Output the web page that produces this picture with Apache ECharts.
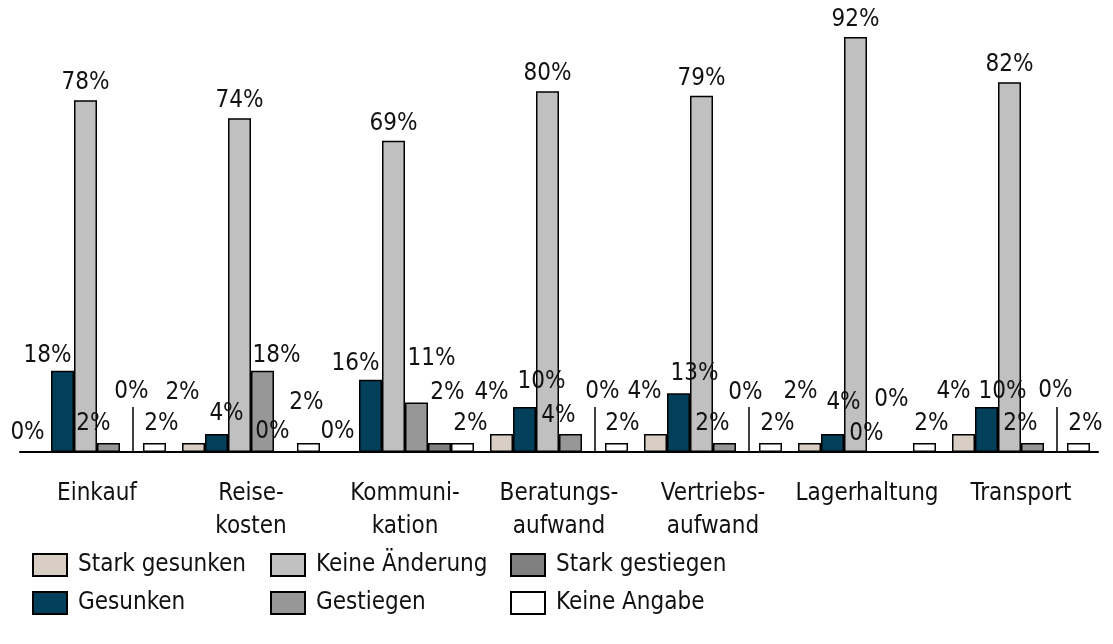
<!DOCTYPE html>
<html><head><meta charset="utf-8">
<script src="https://cdn.jsdelivr.net/npm/echarts@6/dist/echarts.min.js"></script>
<style>html,body{margin:0;padding:0;background:#fff}#c{width:1113px;height:644px}</style>
</head><body><div id="c"></div>
<script>
// ---- data ----
const CATEGORIES = ['Einkauf', 'Reise-\nkosten', 'Kommuni-\nkation', 'Beratungs-\naufwand', 'Vertriebs-\naufwand', 'Lagerhaltung', 'Transport'];
const SERIES_NAMES = ['Stark gesunken', 'Gesunken', 'Keine Änderung', 'Gestiegen', 'Stark gestiegen', 'Keine Angabe'];
const STARK_GESUNKEN  = [0, 2, 0, 4, 4, 2, 4];
const GESUNKEN        = [18, 4, 16, 10, 13, 4, 10];
const KEINE_AENDERUNG = [78, 74, 69, 80, 79, 92, 82];
const GESTIEGEN       = [2, 18, 11, 4, 2, 0, 2];
const STARK_GESTIEGEN = [0, 0, 2, 0, 0, 0, 0];
const KEINE_ANGABE    = [2, 2, 2, 2, 2, 2, 2];
const SEPARATOR_AT    = [0, 3, 4, 6];   // which separator ticks are drawn

// ---- style ----
const FONT = "'Liberation Sans Narrow', 'Arial Narrow', 'DejaVu Sans Condensed', sans-serif";
const COLORS = ['#d8cec4', '#023f5a', '#c0c0c0', '#979797', '#808080', '#ffffff'];
const LABEL_NUDGE = [
  [[-12,-4],[-11,-36],[-10,-5],[-10,-27],[-11,-28],[-9,-37],[-10,-28]],
  [[-15,-1],[10,-6],[-15,-2],[17,-11],[16,-6],[11,-17],[16,-1]],
  [[0,-3],[0,-3],[0,-3],[0,-3],[0,-3],[0,-3],[0,-3]],
  [[-15,-5],[14,-1],[15,-30],[-12,-4],[-12,-5],[-12,-3],[-12,-5]],
  [[0,-45],[-13,-5],[8,-36],[9,-45],[-2,-44],[-10,-37],[0,-46]],
  [[7,-5],[-2,-26],[8,-5],[6,-5],[7,-5],[7,-5],[7,-5]]
];
const VALUES = [STARK_GESUNKEN, GESUNKEN, KEINE_AENDERUNG, GESTIEGEN, STARK_GESTIEGEN, KEINE_ANGABE];

const series = SERIES_NAMES.map((name, s) => ({
  name, type: 'bar', xAxisIndex: 0, yAxisIndex: 0,
  barGap: '0%', barCategoryGap: '10.4%',
  itemStyle: { color: COLORS[s], borderColor: '#000', borderWidth: 1.5 },
  label: {
    show: true, position: 'top', distance: 0, formatter: '{c}%',
    fontFamily: FONT, fontSize: 24, lineHeight: 28, color: '#111'
  },
  data: VALUES[s].map((v, i) => ({ value: v, label: { offset: LABEL_NUDGE[s][i] } }))
}));

const legendBase = {
  orient: 'vertical', top: 553, padding: 0, itemWidth: 34, itemHeight: 22, itemGap: 14,
  icon: 'rect',
  textStyle: { fontFamily: FONT, fontSize: 24, lineHeight: 22, color: '#111', padding: [0, 0, 0, 6] }
};

const option = {
  animation: false,
  backgroundColor: '#fff',
  grid: [
    { left: 20, right: 15, top: 1, bottom: 192 },
    { left: 133, right: 56, top: 1, bottom: 192 }
  ],
  xAxis: [
    {
      type: 'category', gridIndex: 0, data: CATEGORIES,
      axisLine: { lineStyle: { color: '#000', width: 2 } },
      axisTick: { show: false },
      axisLabel: { fontFamily: FONT, fontSize: 24, lineHeight: 33, color: '#111', margin: 25, interval: 0 }
    },
    {
      type: 'category', gridIndex: 1, data: CATEGORIES, boundaryGap: false,
      axisLine: { show: false },
      axisLabel: { show: false },
      axisTick: { show: true, inside: true, length: 45, interval: (i) => SEPARATOR_AT.includes(i),
                  lineStyle: { color: '#000', width: 1.5 } }
    }
  ],
  yAxis: [
    { type: 'value', gridIndex: 0, min: 0, max: 100, show: false },
    { type: 'value', gridIndex: 1, min: 0, max: 100, show: false }
  ],
  legend: [
    Object.assign({}, legendBase, { left: 32, data: ['Stark gesunken', 'Gesunken'] }),
    Object.assign({}, legendBase, { left: 270, data: ['Keine Änderung', 'Gestiegen'] }),
    Object.assign({}, legendBase, { left: 510, data: ['Stark gestiegen', 'Keine Angabe'] })
  ],
  series
};

const chart = echarts.init(document.getElementById('c'), null, { renderer: 'canvas' });
chart.setOption(option);
</script>
</body></html>
